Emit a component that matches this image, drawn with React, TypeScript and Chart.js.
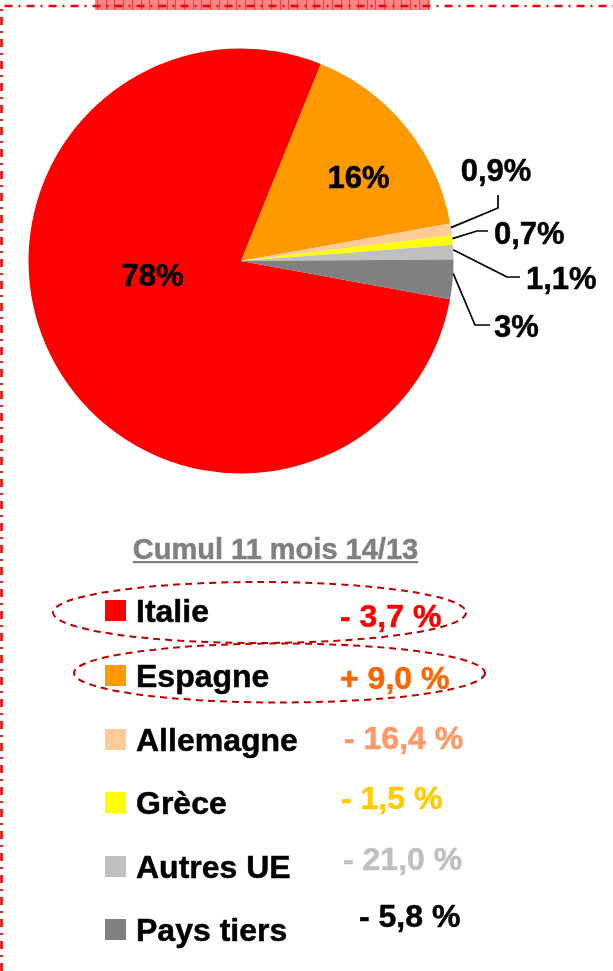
import React, { useEffect, useRef } from "react";
import { Chart, registerables } from "chart.js";

Chart.register(...registerables);

// ---------- data ----------
const categories = ["Italie", "Espagne", "Allemagne", "Grèce", "Autres UE", "Pays tiers"];
const shares = [78, 16, 0.9, 0.7, 1.1, 3];
const shareLabels = ["78%", "16%", "0,9%", "0,7%", "1,1%", "3%"];
const changeLabels = ["- 3,7 %", "+ 9,0 %", "- 16,4 %", "- 1,5 %", "- 21,0 %", "- 5,8 %"];
const legendTitle = "Cumul 11 mois 14/13";
const highlighted = [true, true, false, false, false, false];

// ---------- styles ----------
const sliceColors = ["#FF0000", "#FF9900", "#FFCC99", "#FFFF00", "#C0C0C0", "#808080"];
const changeColors = ["#FF0000", "#FF6600", "#FF9966", "#FFCC00", "#C0C0C0", "#000000"];
const FONT = '"Liberation Sans", Arial, Helvetica, sans-serif';

// ---------- layout (relative to pie centre) ----------
type LabelPos = { dx: number; dy: number; align: CanvasTextAlign; leader?: number[][] };
const labelLayout: LabelPos[] = [
  { dx: -88.5, dy: 24.5, align: "center" },
  { dx: 117.5, dy: -73, align: "center" },
  { dx: 255, dy: -80.5, align: "center", leader: [[257, -53], [257, -66]] },
  { dx: 253, dy: -17.5, align: "left", leader: [[236, -30], [247, -30]] },
  { dx: 285, dy: 27.5, align: "left", leader: [[266, 16], [279, 16]] },
  { dx: 253, dy: 76, align: "left", leader: [[234, 64], [249, 64]] },
];
const leaderAnchorFraction = 0.35;

const rowSquareTop = [600, 665, 729, 792, 856, 919];
const valueX = [340, 340, 344, 341, 343, 359];
const valueBaseline = [627, 689, 749, 809, 870, 927];
const ellipses = [
  { cx: 259.5, cy: 612.5, rx: 206.5, ry: 30.5 },
  { cx: 279.5, cy: 673, rx: 205.5, ry: 29.5 },
];

function boldText(ctx: CanvasRenderingContext2D, text: string, x: number, y: number, color: string) {
  ctx.fillStyle = color;
  ctx.strokeStyle = color;
  ctx.lineWidth = 0.5;
  ctx.lineJoin = "round";
  ctx.setLineDash([]);
  ctx.fillText(text, x, y);
  ctx.strokeText(text, x, y);
}

const decorPlugin = {
  id: "decor",
  afterDatasetsDraw(chart: any) {
    const ctx: CanvasRenderingContext2D = chart.ctx;
    const meta = chart.getDatasetMeta(0);
    ctx.save();
    meta.data.forEach((arc: any, i: number) => {
      const p = arc.getProps(["x", "y", "startAngle", "endAngle", "outerRadius"], true);
      const L = labelLayout[i];
      if (L.leader) {
        const a = p.startAngle + (p.endAngle - p.startAngle) * leaderAnchorFraction;
        const sx = p.x + Math.cos(a) * p.outerRadius;
        const sy = p.y + Math.sin(a) * p.outerRadius;
        ctx.beginPath();
        ctx.strokeStyle = "#000";
        ctx.lineWidth = 1.7;
        ctx.setLineDash([]);
        ctx.moveTo(sx, sy);
        ctx.lineTo(p.x + L.leader[0][0], p.y + L.leader[0][1]);
        ctx.lineTo(p.x + L.leader[1][0], p.y + L.leader[1][1]);
        ctx.stroke();
      }
      ctx.font = `bold 31px ${FONT}`;
      ctx.textAlign = L.align;
      ctx.textBaseline = "alphabetic";
      boldText(ctx, shareLabels[i], p.x + L.dx, p.y + L.dy, "#000");
    });
    ctx.restore();
  },
  afterDraw(chart: any) {
    const ctx: CanvasRenderingContext2D = chart.ctx;
    ctx.save();
    // hatched band at top
    ctx.fillStyle = "rgba(255,120,120,0.9)";
    ctx.fillRect(95, 0, 335, 10);
    ctx.strokeStyle = "rgba(235,50,50,0.8)";
    ctx.lineWidth = 1;
    for (let x = 97; x < 430; x += 8.7) {
      ctx.beginPath();
      ctx.moveTo(Math.round(x) + 0.5, 0);
      ctx.lineTo(Math.round(x) + 0.5, 10);
      ctx.stroke();
    }
    // dash-dot border
    ctx.strokeStyle = "#FF0000";
    ctx.lineWidth = 2.6;
    ctx.setLineDash([8, 6, 2, 6]);
    ctx.beginPath();
    ctx.moveTo(1.5, 971);
    ctx.lineTo(1.5, 6);
    ctx.lineTo(613, 6);
    ctx.stroke();
    ctx.setLineDash([]);

    // legend title
    ctx.font = `bold 29px ${FONT}`;
    ctx.textAlign = "center";
    ctx.textBaseline = "alphabetic";
    boldText(ctx, legendTitle, 275.5, 559, "#808080");
    const tw = ctx.measureText(legendTitle).width;
    ctx.fillStyle = "#808080";
    ctx.fillRect(275.5 - tw / 2, 561, tw, 2.2);

    // legend rows
    categories.forEach((name, i) => {
      const top = rowSquareTop[i];
      ctx.fillStyle = sliceColors[i];
      ctx.fillRect(105, top, 21, 21);
      ctx.font = `bold 32px ${FONT}`;
      ctx.textAlign = "left";
      boldText(ctx, name, 136, top + 21.5, "#000");
      boldText(ctx, changeLabels[i], valueX[i], valueBaseline[i], changeColors[i]);
    });

    // dashed ellipses around highlighted rows
    ctx.strokeStyle = "#C00000";
    ctx.lineWidth = 2;
    ctx.setLineDash([7, 5]);
    highlighted.forEach((h, i) => {
      if (!h) return;
      const e = ellipses[i];
      ctx.beginPath();
      ctx.ellipse(e.cx, e.cy, e.rx, e.ry, 0, 0, Math.PI * 2);
      ctx.stroke();
    });
    ctx.restore();
  },
};

export default function App() {
  const ref = useRef<HTMLCanvasElement | null>(null);
  useEffect(() => {
    if (!ref.current) return;
    const chart = new Chart(ref.current, {
      type: "pie",
      data: {
        labels: categories,
        datasets: [
          {
            data: shares,
            backgroundColor: sliceColors,
            borderWidth: 0,
          },
        ],
      },
      options: {
        responsive: false,
        devicePixelRatio: 1,
        animation: false,
        rotation: 100.4,
        layout: { padding: { left: 28.5, top: 48.5, right: 159.5, bottom: 497.5 } },
        plugins: {
          legend: { display: false },
          tooltip: { enabled: false },
        },
        events: [],
      },
      plugins: [decorPlugin],
    } as any);
    return () => chart.destroy();
  }, []);
  return (
    <div style={{ position: "absolute", left: 0, top: 0, width: 613, height: 971, background: "#fff" }}>
      <canvas ref={ref} width={613} height={971} style={{ display: "block" }} />
    </div>
  );
}
